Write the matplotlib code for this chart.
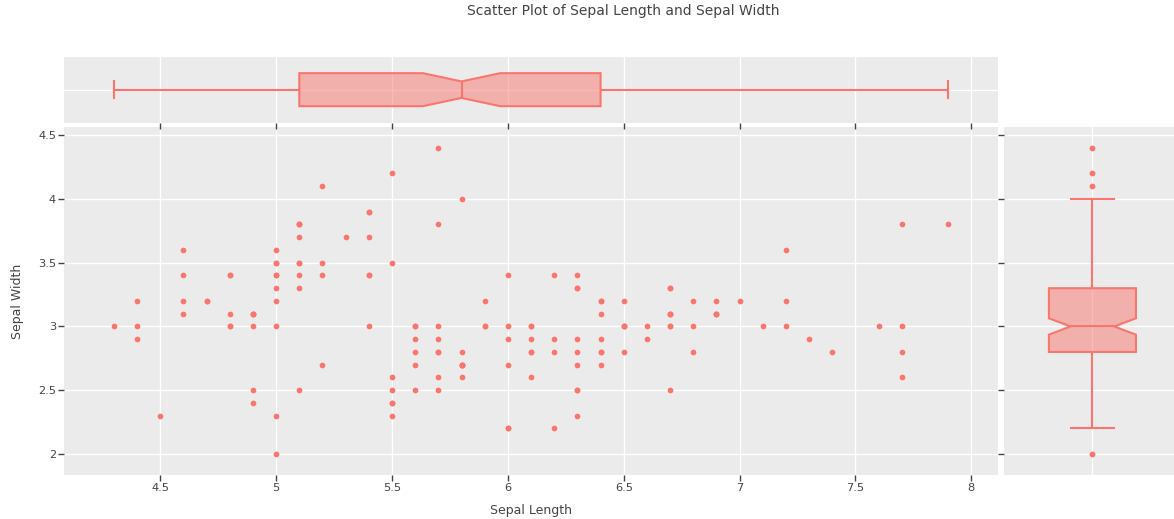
#! /usr/bin/env python3
import numpy as np
from matplotlib import pyplot as plt

# iris: sepal length / sepal width (setosa, versicolor, virginica)
sepal_length = [
    5.1, 4.9, 4.7, 4.6, 5.0, 5.4, 4.6, 5.0, 4.4, 4.9,
    5.4, 4.8, 4.8, 4.3, 5.8, 5.7, 5.4, 5.1, 5.7, 5.1,
    5.4, 5.1, 4.6, 5.1, 4.8, 5.0, 5.0, 5.2, 5.2, 4.7,
    4.8, 5.4, 5.2, 5.5, 4.9, 5.0, 5.5, 4.9, 4.4, 5.1,
    5.0, 4.5, 4.4, 5.0, 5.1, 4.8, 5.1, 4.6, 5.3, 5.0,
    7.0, 6.4, 6.9, 5.5, 6.5, 5.7, 6.3, 4.9, 6.6, 5.2,
    5.0, 5.9, 6.0, 6.1, 5.6, 6.7, 5.6, 5.8, 6.2, 5.6,
    5.9, 6.1, 6.3, 6.1, 6.4, 6.6, 6.8, 6.7, 6.0, 5.7,
    5.5, 5.5, 5.8, 6.0, 5.4, 6.0, 6.7, 6.3, 5.6, 5.5,
    5.5, 6.1, 5.8, 5.0, 5.6, 5.7, 5.7, 6.2, 5.1, 5.7,
    6.3, 5.8, 7.1, 6.3, 6.5, 7.6, 4.9, 7.3, 6.7, 7.2,
    6.5, 6.4, 6.8, 5.7, 5.8, 6.4, 6.5, 7.7, 7.7, 6.0,
    6.9, 5.6, 7.7, 6.3, 6.7, 7.2, 6.2, 6.1, 6.4, 7.2,
    7.4, 7.9, 6.4, 6.3, 6.1, 7.7, 6.3, 6.4, 6.0, 6.9,
    6.7, 6.9, 5.8, 6.8, 6.7, 6.7, 6.3, 6.5, 6.2, 5.9,
]
sepal_width = [
    3.5, 3.0, 3.2, 3.1, 3.6, 3.9, 3.4, 3.4, 2.9, 3.1,
    3.7, 3.4, 3.0, 3.0, 4.0, 4.4, 3.9, 3.5, 3.8, 3.8,
    3.4, 3.7, 3.6, 3.3, 3.4, 3.0, 3.4, 3.5, 3.4, 3.2,
    3.1, 3.4, 4.1, 4.2, 3.1, 3.2, 3.5, 3.1, 3.0, 3.4,
    3.5, 2.3, 3.2, 3.5, 3.8, 3.0, 3.8, 3.2, 3.7, 3.3,
    3.2, 3.2, 3.1, 2.3, 2.8, 2.8, 3.3, 2.4, 2.9, 2.7,
    2.0, 3.0, 2.2, 2.9, 2.9, 3.1, 3.0, 2.7, 2.2, 2.5,
    3.2, 2.8, 2.5, 2.8, 2.9, 3.0, 2.8, 3.0, 2.9, 2.6,
    2.4, 2.4, 2.7, 2.7, 3.0, 3.4, 3.1, 2.3, 3.0, 2.5,
    2.6, 3.0, 2.6, 2.3, 2.7, 3.0, 2.9, 2.9, 2.5, 2.8,
    3.3, 2.7, 3.0, 2.9, 3.0, 3.0, 2.5, 2.9, 2.5, 3.6,
    3.2, 2.7, 3.0, 2.5, 2.8, 3.2, 3.0, 3.8, 2.6, 2.2,
    3.2, 2.8, 2.8, 2.7, 3.3, 3.2, 2.8, 3.0, 2.8, 3.0,
    2.8, 3.8, 2.8, 2.8, 2.6, 3.0, 3.4, 3.1, 3.0, 3.1,
    3.1, 3.1, 2.7, 3.2, 3.3, 3.0, 2.5, 3.0, 3.4, 3.0,
]
x_ticks = [4.5, 5, 5.5, 6, 6.5, 7, 7.5, 8]
y_ticks = [2, 2.5, 3, 3.5, 4, 4.5]

COLOR = "#F8766D"
PANEL = "#EBEBEB"
TEXT = "#444444"

plt.rcParams["font.family"] = ["DejaVu Sans"]

fig = plt.figure(figsize=(11.74, 5.19), dpi=100)
ax = fig.add_axes([0.0548, 0.0848, 0.7951, 0.6696])
ax_top = fig.add_axes([0.0548, 0.7636, 0.7951, 0.1272], sharex=ax)
ax_right = fig.add_axes([0.8549, 0.0848, 0.1451, 0.6696], sharey=ax)

for a in (ax, ax_top, ax_right):
    a.set_facecolor(PANEL)
    for s in a.spines.values():
        s.set_visible(False)
    a.grid(True, color="white", linewidth=1.0)
    a.set_axisbelow(True)
    a.tick_params(length=4, width=1, color=TEXT, labelcolor=TEXT,
                  labelsize=8.2, pad=2)

ax.scatter(sepal_length, sepal_width, s=17, color=COLOR, linewidths=0,
           zorder=3)
ax.set_xlim(4.086, 8.114)
ax.set_ylim(1.835, 4.561)
ax.set_xticks(x_ticks)
ax.set_xticklabels([f"{t:g}" for t in x_ticks])
ax.set_yticks(y_ticks)
ax.set_yticklabels([f"{t:g}" for t in y_ticks])
ax.set_xlabel("Sepal Length", fontsize=9, color=TEXT, labelpad=8)
ax.set_ylabel("Sepal Width", fontsize=9, color=TEXT, labelpad=10)

box_style = dict(
    notch=True,
    patch_artist=True,
    boxprops=dict(facecolor=(248 / 255, 118 / 255, 109 / 255, 0.5),
                  edgecolor=COLOR, linewidth=1.5),
    medianprops=dict(color=COLOR, linewidth=1.5),
    whiskerprops=dict(color=COLOR, linewidth=1.5),
    capprops=dict(color=COLOR, linewidth=1.5),
    flierprops=dict(marker="o", markersize=4.2, markerfacecolor=COLOR,
                    markeredgewidth=0),
)

# marginal box for sepal length
ax_top.boxplot(sepal_length, positions=[0], widths=0.5,
               orientation="horizontal", **box_style)
ax_top.set_ylim(-0.5, 0.5)
ax_top.set_yticks([0])
ax_top.tick_params(axis="y", left=False, labelleft=False)
ax_top.tick_params(axis="x", labelbottom=False)

# marginal box for sepal width
ax_right.boxplot(sepal_width, positions=[0], widths=0.511, **box_style)
ax_right.set_xlim(-0.521, 0.479)
ax_right.set_xticks([0])
ax_right.tick_params(axis="x", bottom=False, labelbottom=False)
ax_right.tick_params(axis="y", labelleft=False)

fig.text(623 / 1174, 1 - 11 / 519, "Scatter Plot of Sepal Length and Sepal Width",
         ha="center", va="center", fontsize=10, color=TEXT)

fig.savefig("out.png", dpi=100)
